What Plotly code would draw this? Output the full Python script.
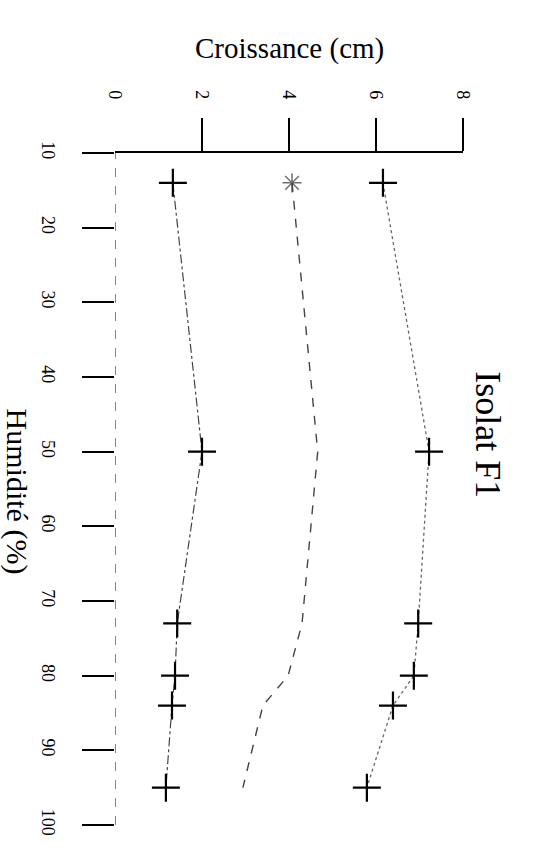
import plotly.graph_objects as go

# Humidity levels tested (%)
humidite = [14, 50, 73, 80, 84, 95]

# Growth (cm) for the three curves
croissance_bas = [1.33, 2.0, 1.43, 1.38, 1.31, 1.17]
croissance_milieu = [4.07, 4.66, 4.30, 3.98, 3.40, 2.94]
croissance_haut = [6.16, 7.22, 6.97, 6.87, 6.39, 5.79]

# Axis ticks
ticks_croissance = [0, 2, 4, 6, 8]
ticks_humidite = [10, 20, 30, 40, 50, 60, 70, 80, 90, 100]

FONT = "Liberation Serif"
INK = "#000000"
LINE = "#444444"

fig = go.Figure()

fig.add_trace(go.Scatter(
    x=croissance_bas, y=humidite, mode="lines+markers",
    line=dict(color=LINE, width=1.2, dash="dashdot"),
    marker=dict(symbol="cross-thin-open", size=20, color=INK,
                line=dict(color=INK, width=2.2)),
))
fig.add_trace(go.Scatter(
    x=croissance_milieu, y=humidite, mode="lines+markers",
    line=dict(color=LINE, width=1.4, dash="dash"),
    marker=dict(symbol="asterisk-open", size=[16, 0, 0, 0, 0, 0], color="#333333",
                line=dict(color="#333333", width=1.5)),
))
fig.add_trace(go.Scatter(
    x=croissance_haut, y=humidite, mode="lines+markers",
    line=dict(color="#666666", width=1.3, dash="dot"),
    marker=dict(symbol="cross-thin-open", size=20, color=INK,
                line=dict(color=INK, width=2.2)),
))

# Dashed vertical axis at zero growth
fig.add_shape(type="line", xref="x", yref="paper", x0=0, x1=0, y0=0, y1=1,
              line=dict(color="#333333", width=1.2, dash="dash"))

fig.update_layout(
    width=539, height=863,
    margin=dict(l=115, r=76, t=153, b=38),
    paper_bgcolor="white", plot_bgcolor="white",
    showlegend=False,
    font=dict(family=FONT, color=INK, size=18),
    xaxis=dict(
        range=[0, 8], side="top", showgrid=False, zeroline=False,
        showline=True, linecolor=INK, linewidth=1.5,
        tickvals=ticks_croissance[1:], ticks="outside", ticklen=33,
        tickwidth=1.5, tickcolor=INK, showticklabels=False,
    ),
    xaxis2=dict(
        range=[0, 8], side="top", overlaying="x", showgrid=False,
        zeroline=False, showline=False, ticks="",
        tickvals=ticks_croissance, ticktext=[str(v) for v in ticks_croissance],
        tickangle=90, ticklabelstandoff=50,
        tickfont=dict(family=FONT, size=18, color=INK),
    ),
    yaxis=dict(
        range=[100, 10], showgrid=False, zeroline=False, showline=False,
        tickvals=ticks_humidite, ticks="outside", ticklen=32, tickwidth=1.5,
        tickcolor=INK, tickangle=90, ticklabelstandoff=18,
        tickfont=dict(family=FONT, size=18, color=INK),
    ),
)

# Invisible trace to activate the label-only top axis
fig.add_trace(go.Scatter(x=[0, 8], y=[10, 10], xaxis="x2", mode="markers",
                         marker=dict(opacity=0), hoverinfo="skip"))

fig.add_annotation(text="Croissance (cm)", xref="paper", yref="paper",
                   x=0.5, y=1.183, showarrow=False,
                   font=dict(family=FONT, size=29, color=INK))
fig.add_annotation(text="Humidité (%)", xref="paper", yref="paper",
                   x=-0.335, y=0.4955, showarrow=False, textangle=90,
                   font=dict(family=FONT, size=30, color=INK))
fig.add_annotation(text="Isolat F1", xref="paper", yref="paper",
                   x=1.135, y=0.58, showarrow=False, textangle=90,
                   font=dict(family=FONT, size=36, color=INK))

fig.write_html("out.html")
